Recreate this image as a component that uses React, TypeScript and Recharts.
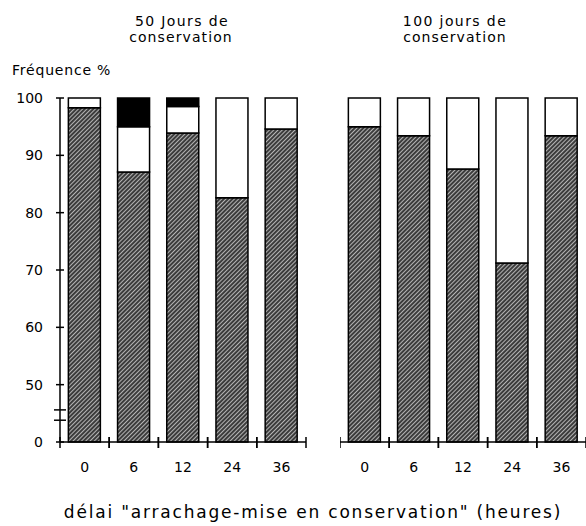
import { BarChart, Bar, XAxis, YAxis } from 'recharts'

const categories = ['0', '6', '12', '24', '36']

// 50 jours de conservation (% par classe, du bas vers le haut)
const hatched50 = [98.3, 87.1, 93.9, 82.6, 94.6]
const white50 = [1.7, 7.9, 4.6, 17.4, 5.4]
const black50 = [0, 5.0, 1.5, 0, 0]

// 100 jours de conservation
const hatched100 = [95.0, 93.4, 87.6, 71.2, 93.4]
const white100 = [5.0, 6.6, 12.4, 28.8, 6.6]
const black100 = [0, 0, 0, 0, 0]

const yTickValues = [0, 50, 60, 70, 80, 90, 100]
// axis units where the "broken axis" marks sit
const breakMarks = [3.8, 5.6]

const FONT = 'DejaVu Sans'
const W = 586
const H = 526
const PLOT_TOP = 98
const PLOT_BOTTOM = 442
const XAX_H = 40
const PLOT_W = 246
const BAND = PLOT_W / categories.length

// broken axis: 0..50 squeezed into one 10-unit step
const brk = (v: number) => (v >= 50 ? v - 40 : v / 5)
const unbrk = (t: number) => (t >= 10 ? t + 40 : t * 5)

function buildRows(h: number[], w: number[], b: number[]) {
  return categories.map((c, i) => ({ cat: c, hatched: brk(h[i]), white: w[i], black: b[i] }))
}

const rows50 = buildRows(hatched50, white50, black50)
const rows100 = buildRows(hatched100, white100, black100)

function XTick(props: any) {
  const { x, y, payload } = props
  return (
    <g>
      <line x1={x - BAND / 2} x2={x - BAND / 2} y1={y - 5} y2={y + 6} stroke="#000" strokeWidth={1.5} />
      <line x1={x + BAND / 2} x2={x + BAND / 2} y1={y - 5} y2={y + 6} stroke="#000" strokeWidth={1.5} />
      <text x={x} y={y + 30} textAnchor="middle" fontFamily={FONT} fontSize={14} fill="#000">
        {payload.value}
      </text>
    </g>
  )
}

function YTick(props: any) {
  const { x, y, payload } = props
  const v = payload.value
  if (breakMarks.includes(v)) {
    return <line x1={x - 6} x2={x + 6} y1={y} y2={y} stroke="#000" strokeWidth={1.5} />
  }
  return (
    <g>
      <line x1={x - 4} x2={x + 4} y1={y} y2={y} stroke="#000" strokeWidth={1.5} />
      <text x={x - 17} y={y} dy="0.36em" textAnchor="end" fontFamily={FONT} fontSize={14} fill="#000">
        {Math.round(unbrk(v))}
      </text>
    </g>
  )
}

function Hatch({ id }: { id: string }) {
  return (
    <defs>
      <pattern id={id} patternUnits="userSpaceOnUse" width={3} height={3} patternTransform="rotate(45)">
        <rect width={3} height={3} fill="#3c3c3c" />
        <line x1={0.5} y1={0} x2={0.5} y2={3} stroke="#b4b4b4" strokeWidth={1} />
      </pattern>
    </defs>
  )
}

function Panel({ data, id, showY }: { data: any[]; id: string; showY: boolean }) {
  const width = showY ? 60 + PLOT_W + 4 : PLOT_W + 2
  return (
    <BarChart
      width={width}
      height={H}
      data={data}
      margin={{ top: PLOT_TOP, right: showY ? 4 : 2, left: 0, bottom: H - PLOT_BOTTOM - XAX_H }}
      barCategoryGap="17%"
    >
      <Hatch id={id} />
      <XAxis
        dataKey="cat"
        height={XAX_H}
        axisLine={{ stroke: '#000', strokeWidth: 1.5 }}
        tickLine={false}
        tickSize={0}
        tickMargin={0}
        interval={0}
        tick={(p: any) => <XTick {...p} />}
      />
      <YAxis
        hide={!showY}
        width={60}
        type="number"
        domain={[0, 60]}
        ticks={[...yTickValues.map(brk), ...breakMarks]}
        interval={0}
        axisLine={{ stroke: '#000', strokeWidth: 1.5 }}
        tickLine={false}
        tickSize={0}
        tickMargin={0}
        tick={(p: any) => <YTick {...p} />}
      />
      <Bar dataKey="hatched" stackId="s" fill={`url(#${id})`} stroke="#000" strokeWidth={1.5} isAnimationActive={false} />
      <Bar dataKey="white" stackId="s" fill="#fff" stroke="#000" strokeWidth={1.5} isAnimationActive={false} />
      <Bar dataKey="black" stackId="s" fill="#000" stroke="#000" strokeWidth={1.5} isAnimationActive={false} />
    </BarChart>
  )
}

export default function App() {
  return (
    <div style={{ position: 'absolute', left: 0, top: 0, width: W, height: H, background: '#fff', overflow: 'hidden' }}>
      <div style={{ position: 'absolute', left: 0, top: 0 }}>
        <Panel data={rows50} id="hatch50" showY />
      </div>
      <div style={{ position: 'absolute', left: 340, top: 0 }}>
        <Panel data={rows100} id="hatch100" showY={false} />
      </div>
      <svg width={W} height={H} style={{ position: 'absolute', left: 0, top: 0, pointerEvents: 'none' }}>
        <g fontFamily={FONT} fontSize={14} fill="#000" letterSpacing={1.4}>
          <text x={182} y={26} textAnchor="middle">50 Jours de</text>
          <text x={181} y={42} textAnchor="middle" letterSpacing={1.1}>conservation</text>
          <text x={455} y={26} textAnchor="middle">100 jours de</text>
          <text x={455} y={42} textAnchor="middle" letterSpacing={1.1}>conservation</text>
          <text x={12} y={75} letterSpacing={0.8}>Fréquence %</text>
        </g>
        <text x={313} y={518} textAnchor="middle" fontFamily={FONT} fontSize={17} letterSpacing={1.8} fill="#000">
          délai "arrachage-mise en conservation" (heures)
        </text>
      </svg>
    </div>
  )
}
